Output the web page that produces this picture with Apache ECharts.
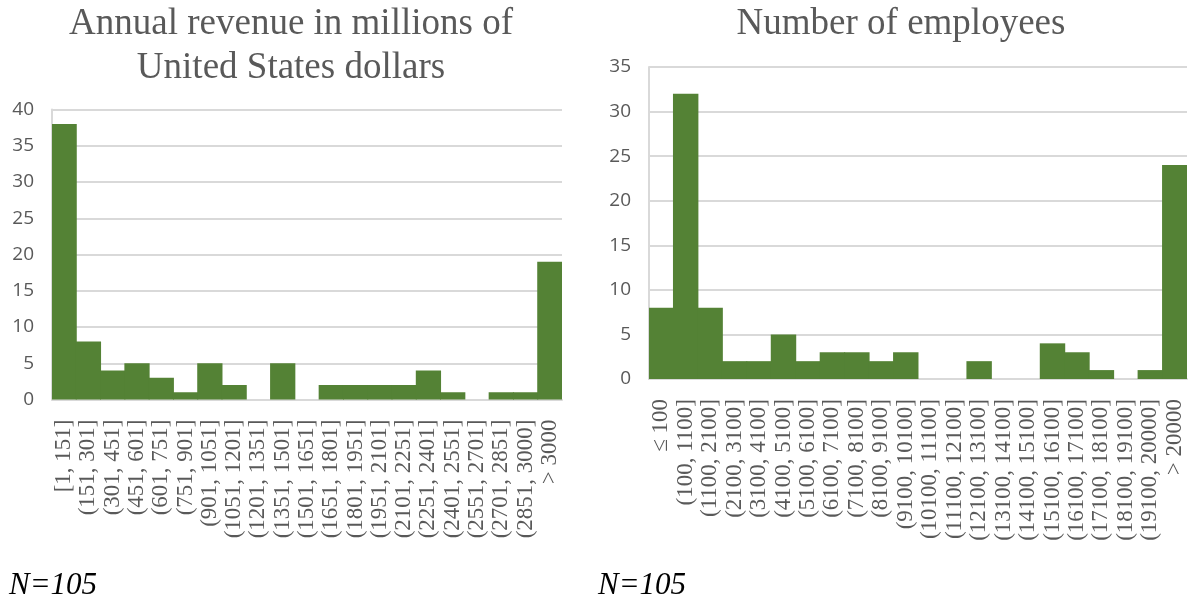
<!DOCTYPE html>
<html>
<head>
<meta charset="utf-8">
<style>
  html, body { margin: 0; padding: 0; background: #ffffff; }
  #chart { width: 1189px; height: 599px; }
</style>
<script src="https://cdn.jsdelivr.net/npm/echarts@6/dist/echarts.min.js"></script>
</head>
<body>
<div id="chart"></div>
<script>
// Revenue bins (millions of USD) and company counts
const revenueBins = [
  '[1, 151]', '(151, 301]', '(301, 451]', '(451, 601]', '(601, 751]', '(751, 901]',
  '(901, 1051]', '(1051, 1201]', '(1201, 1351]', '(1351, 1501]', '(1501, 1651]',
  '(1651, 1801]', '(1801, 1951]', '(1951, 2101]', '(2101, 2251]', '(2251, 2401]',
  '(2401, 2551]', '(2551, 2701]', '(2701, 2851]', '(2851, 3000]', '> 3000'
];
const revenueCounts = [38, 8, 4, 5, 3, 1, 5, 2, 0, 5, 0, 2, 2, 2, 2, 4, 1, 0, 1, 1, 19];

// Employee-count bins and company counts
const employeeBins = [
  '≤ 100', '(100, 1100]', '(1100, 2100]', '(2100, 3100]', '(3100, 4100]', '(4100, 5100]',
  '(5100, 6100]', '(6100, 7100]', '(7100, 8100]', '(8100, 9100]', '(9100, 10100]',
  '(10100, 11100]', '(11100, 12100]', '(12100, 13100]', '(13100, 14100]', '(14100, 15100]',
  '(15100, 16100]', '(16100, 17100]', '(17100, 18100]', '(18100, 19100]', '(19100, 20000]',
  '> 20000'
];
const employeeCounts = [8, 32, 8, 2, 2, 5, 2, 3, 3, 2, 3, 0, 0, 2, 0, 0, 4, 3, 1, 0, 1, 24];

const revenueTitle = 'Annual revenue in millions of\nUnited States dollars';
const employeeTitle = 'Number of employees';
const sampleNote = 'N=105';

const GREEN = '#548235';
const GREY_TEXT = '#595959';
const GRID_LINE = '#d9d9d9';

function catAxis(gridIndex, data) {
  return {
    type: 'category',
    gridIndex: gridIndex,
    data: data,
    axisTick: { show: false },
    axisLine: { show: true, lineStyle: { color: GRID_LINE, width: 2 } },
    axisLabel: {
      interval: 0,
      rotate: 90,
      margin: 20,
      color: GREY_TEXT,
      fontFamily: 'Liberation Serif',
      fontSize: 23
    }
  };
}

function valAxis(gridIndex, max) {
  return {
    type: 'value',
    gridIndex: gridIndex,
    min: 0,
    max: max,
    interval: 5,
    axisLine: { show: true, lineStyle: { color: GRID_LINE, width: 2 } },
    axisTick: { show: false },
    splitLine: { lineStyle: { color: GRID_LINE, width: 2 } },
    axisLabel: {
      margin: 18,
      color: GREY_TEXT,
      fontFamily: 'Open Sans',
      fontSize: 19
    }
  };
}

const titleStyle = { fontFamily: 'Liberation Serif', fontWeight: 'normal', fontSize: 37, lineHeight: 44, color: GREY_TEXT };
const noteStyle = { fontFamily: 'Liberation Serif', fontStyle: 'italic', fontWeight: 'normal', fontSize: 31, color: '#000000' };

// Histogram bars: slightly wider than the band so neighbours overlap without seams
function histSeries(axisIndex, counts) {
  return {
    type: 'bar',
    xAxisIndex: axisIndex,
    yAxisIndex: axisIndex,
    data: counts,
    barWidth: '104%',
    itemStyle: { color: GREEN }
  };
}

const chart = echarts.init(document.getElementById('chart'), null, { renderer: 'canvas' });

chart.setOption({
  animation: false,
  backgroundColor: '#ffffff',
  title: [
    { text: revenueTitle, left: 286, top: -3, textAlign: 'center', textStyle: titleStyle },
    { text: employeeTitle, left: 896, top: -3, textAlign: 'center', textStyle: titleStyle },
    { text: sampleNote, left: 4, top: 565, textStyle: noteStyle },
    { text: sampleNote, left: 593, top: 565, textStyle: noteStyle }
  ],
  grid: [
    { left: 52, right: 627, top: 109.5, bottom: 199.5 },
    { left: 649, right: 2, top: 67, bottom: 220 }
  ],
  xAxis: [catAxis(0, revenueBins), catAxis(1, employeeBins)],
  yAxis: [valAxis(0, 40), valAxis(1, 35)],
  series: [histSeries(0, revenueCounts), histSeries(1, employeeCounts)]
});
</script>
</body>
</html>
